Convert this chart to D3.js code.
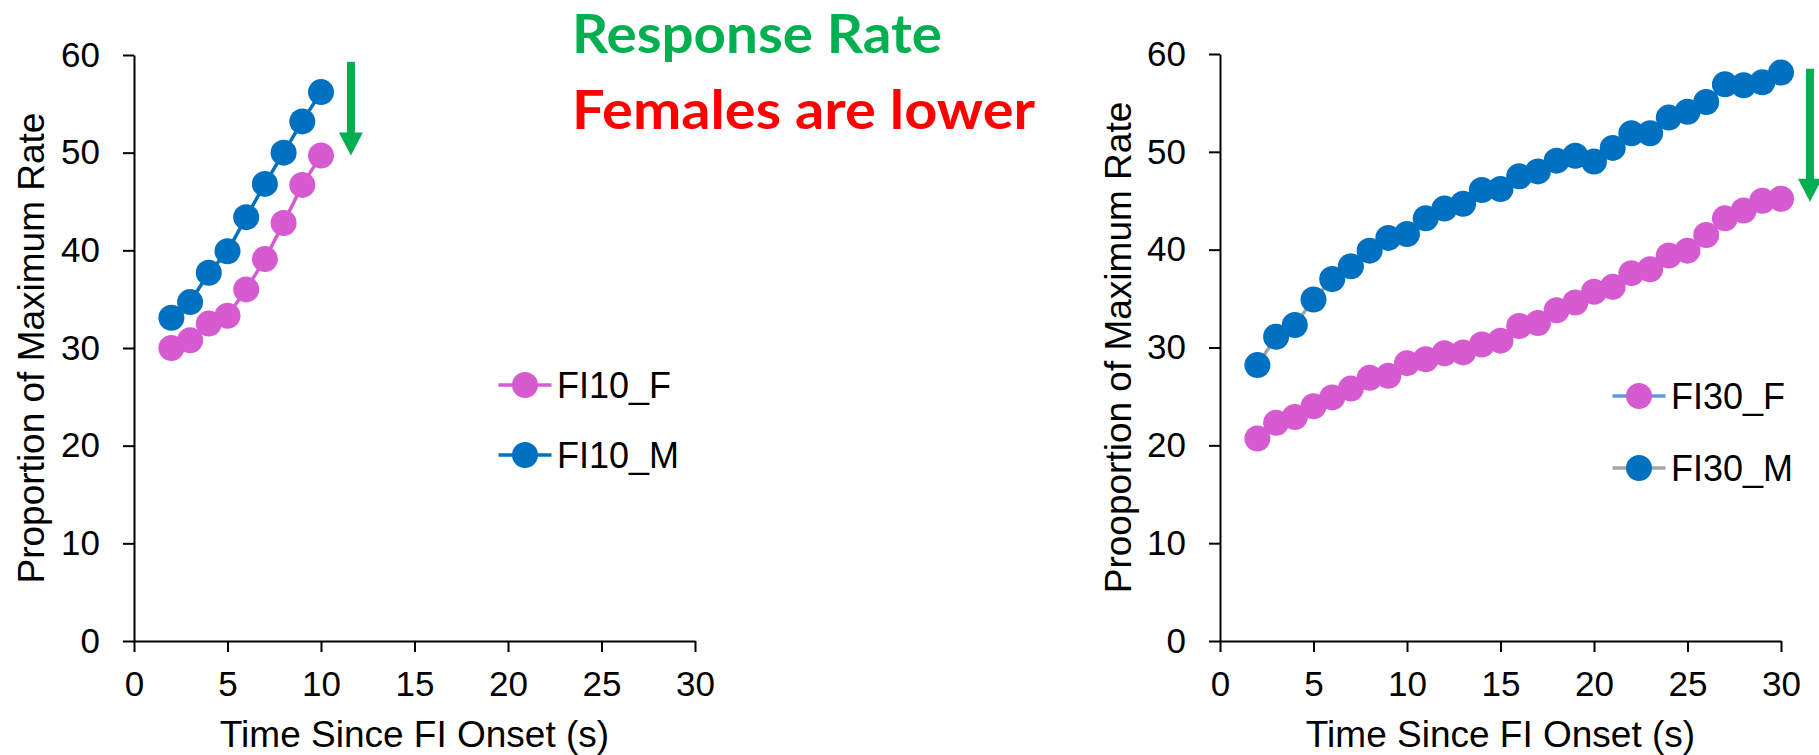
<!DOCTYPE html>
<html><head><meta charset="utf-8">
<script src="https://cdn.jsdelivr.net/npm/d3@7"></script>
<style>body{margin:0;background:#fff}svg{display:block}</style>
</head><body>
<svg id="c" width="1819" height="755"></svg>
<script>
// ---- data ----
const timeFI10 = [2,3,4,5,6,7,8,9,10];
const fi10F = [30.0,30.8,32.5,33.3,36.0,39.1,42.8,46.7,49.7];
const fi10M = [33.1,34.7,37.7,39.9,43.4,46.8,50.0,53.2,56.2];
const timeFI30 = [2,3,4,5,6,7,8,9,10,11,12,13,14,15,16,17,18,19,20,21,22,23,24,25,26,27,28,29,30];
const fi30F = [20.7,22.3,22.9,24.0,24.9,25.8,26.9,27.1,28.4,28.8,29.4,29.5,30.3,30.7,32.2,32.5,33.8,34.6,35.7,36.2,37.6,38.0,39.4,39.9,41.5,43.2,44.0,45.0,45.2];
const fi30M = [28.2,31.1,32.3,34.9,37.0,38.3,39.9,41.2,41.6,43.2,44.2,44.7,46.1,46.2,47.5,48.0,49.1,49.6,49.0,50.4,51.9,51.9,53.5,54.1,55.1,56.9,56.8,57.1,58.1];
const xTicks = [0,5,10,15,20,25,30];
const yTicks = [0,10,20,30,40,50,60];
const xTitle = "Time Since FI Onset (s)";
const yTitles = ["Proportion of Maximum Rate","Prooportion of Maximum Rate"];
const legendF = ["FI10_F","FI30_F"];
const legendM = ["FI10_M","FI30_M"];
const headingLines = ["Response Rate","Females are lower"];

const PINK = "#D65BD0", BLUE = "#0070C0", GREEN = "#00B050", RED = "#FF0000";
const svg = d3.select("#c");
const FONT = "'Liberation Sans', Arial, sans-serif";

const panels = [
  {x0:134, x1:695, yT:55, yB:641, t:timeFI10, F:fi10F, M:fi10M, lineF:PINK, lineM:BLUE,
   yTitle:yTitles[0], yTitleX:31, legF:legendF[0], legM:legendM[0], legX:525, legY:[385,455],
   arrow:{x:11.6, top:59.3, tip:49.7}},
  {x0:1220, x1:1781, yT:54, yB:641, t:timeFI30, F:fi30F, M:fi30M, lineF:"#5B9BD5", lineM:"#A5A5A5",
   yTitle:yTitles[1], yTitleX:1118, legF:legendF[1], legM:legendM[1], legX:1639, legY:[396,468],
   arrow:{x:31.55, top:58.5, tip:44.9}}
];

panels.forEach(p => {
  const x = d3.scaleLinear().domain([0,30]).range([p.x0,p.x1]);
  const y = d3.scaleLinear().domain([0,60]).range([p.yB,p.yT]);

  const gx = svg.append("g").attr("transform",`translate(0,${p.yB})`)
    .call(d3.axisBottom(x).tickValues(xTicks).tickSize(11).tickSizeOuter(0).tickPadding(19));
  const gy = svg.append("g").attr("transform",`translate(${p.x0},0)`)
    .call(d3.axisLeft(y).tickValues(yTicks).tickSize(11).tickSizeOuter(0).tickPadding(23));
  [gx,gy].forEach(g => {
    g.selectAll("path,line").attr("stroke","#000").attr("stroke-width",2);
    g.selectAll("text").attr("font-family",FONT).attr("font-size",35).attr("fill","#000");
  });

  // axis titles
  svg.append("text").attr("x",(p.x0+p.x1)/2).attr("y",747).attr("text-anchor","middle")
    .attr("font-family",FONT).attr("font-size",37).attr("fill","#000").text(xTitle);
  svg.append("text").attr("transform",`translate(${p.yTitleX},${(p.yT+p.yB)/2}) rotate(-90)`)
    .attr("text-anchor","middle").attr("dy","0.36em")
    .attr("font-family",FONT).attr("font-size",37).attr("fill","#000").text(p.yTitle);

  const line = d3.line().x((d,i)=>x(p.t[i])).y(d=>y(d));
  const series = [{v:p.F, c:PINK, lc:p.lineF},{v:p.M, c:BLUE, lc:p.lineM}];
  series.forEach(s => {
    svg.append("path").datum(s.v).attr("d",line).attr("fill","none")
      .attr("stroke",s.lc).attr("stroke-width",3.5);
    svg.append("g").selectAll("circle").data(s.v).join("circle")
      .attr("cx",(d,i)=>x(p.t[i])).attr("cy",d=>y(d)).attr("r",13).attr("fill",s.c);
  });

  // legend
  [[p.legF,PINK,p.lineF],[p.legM,BLUE,p.lineM]].forEach((L,i) => {
    const cy = p.legY[i];
    svg.append("line").attr("x1",p.legX-26.5).attr("x2",p.legX+26.5).attr("y1",cy).attr("y2",cy)
      .attr("stroke",L[2]).attr("stroke-width",3.5);
    svg.append("circle").attr("cx",p.legX).attr("cy",cy).attr("r",13).attr("fill",L[1]);
    svg.append("text").attr("x",p.legX+32).attr("y",cy).attr("dy","0.36em")
      .attr("font-family",FONT).attr("font-size",36).attr("fill","#000").text(L[0]);
  });

  // arrow
  const ax = x(p.arrow.x), aT = y(p.arrow.top), aTip = y(p.arrow.tip);
  const hl = 23, hw = 12;
  svg.append("line").attr("x1",ax).attr("x2",ax).attr("y1",aT).attr("y2",aTip-hl+1)
    .attr("stroke",GREEN).attr("stroke-width",8);
  svg.append("path").attr("d",`M${ax-hw},${aTip-hl} L${ax+hw},${aTip-hl} L${ax},${aTip} Z`).attr("fill",GREEN);
});

// heading
const HF = "Lato, 'Open Sans', sans-serif";
svg.append("text").attr("x",572).attr("y",53).attr("font-family",HF).attr("font-weight","bold")
  .attr("font-size",54).attr("fill",GREEN).attr("textLength",370).attr("lengthAdjust","spacingAndGlyphs")
  .text(headingLines[0]);
svg.append("text").attr("x",572).attr("y",129).attr("font-family",HF).attr("font-weight","bold")
  .attr("font-size",54).attr("fill",RED).attr("textLength",463).attr("lengthAdjust","spacingAndGlyphs")
  .text(headingLines[1]);
</script>
</body></html>
